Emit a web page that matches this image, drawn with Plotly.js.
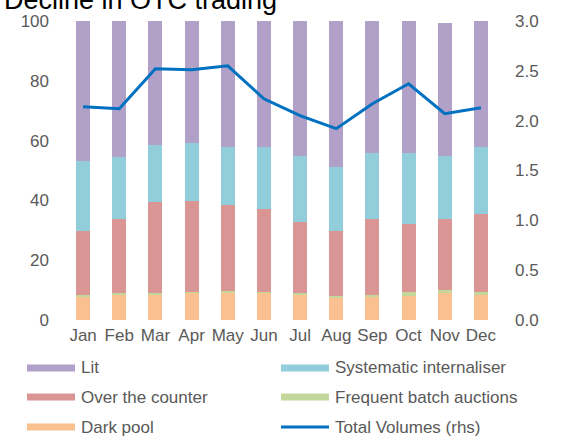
<!DOCTYPE html>
<html>
<head>
<meta charset="utf-8">
<script src="https://cdn.plot.ly/plotly-3.0.1.min.js"></script>
<style>html,body{margin:0;padding:0;background:#fff;}#chart{width:565px;height:437px;}</style>
</head>
<body>
<div id="chart"></div>
<script>
const months = ['Jan','Feb','Mar','Apr','May','Jun','Jul','Aug','Sep','Oct','Nov','Dec'];
const darkPool = [7.6, 8.2, 8.2, 8.9, 9.1, 8.9, 8.2, 7.2, 7.8, 8.1, 8.9, 8.5];
const frequentBatch = [0.7, 0.7, 0.7, 0.5, 0.7, 0.5, 0.7, 0.8, 0.7, 1.1, 1.2, 0.9];
const overTheCounter = [21.5, 24.9, 30.5, 30.4, 28.7, 27.7, 24.0, 21.8, 25.2, 22.8, 23.6, 26.1];
const systematicInt = [23.5, 20.6, 19.2, 19.3, 19.3, 20.7, 21.9, 21.5, 22.2, 23.9, 21.1, 22.3];
const lit = [46.7, 45.6, 41.4, 40.9, 42.2, 42.2, 45.2, 48.7, 44.1, 44.1, 44.5, 42.2];
const totalVolumes = [2.14, 2.12, 2.52, 2.51, 2.55, 2.22, 2.05, 1.92, 2.17, 2.37, 2.07, 2.13];

const colors = {
  lit: '#B1A0C7', si: '#92CDDC', otc: '#DA9694', fba: '#C4D79B', dark: '#FAC090', line: '#0070C0'
};

const W = 565, H = 437;
const M = {l: 65, r: 66, t: 21, b: 117};
const px = x => (x - M.l) / (W - M.l - M.r);
const py = y => (H - M.b - y) / (H - M.t - M.b);

const barCommon = {type: 'bar', x: months, showlegend: false, hoverinfo: 'y+name'};
const traces = [
  Object.assign({}, barCommon, {name: 'Dark pool', y: darkPool, marker: {color: colors.dark}}),
  Object.assign({}, barCommon, {name: 'Frequent batch auctions', y: frequentBatch, marker: {color: colors.fba}}),
  Object.assign({}, barCommon, {name: 'Over the counter', y: overTheCounter, marker: {color: colors.otc}}),
  Object.assign({}, barCommon, {name: 'Systematic internaliser', y: systematicInt, marker: {color: colors.si}}),
  Object.assign({}, barCommon, {name: 'Lit', y: lit, marker: {color: colors.lit}}),
  {type: 'scatter', mode: 'lines', name: 'Total Volumes (rhs)', x: months, y: totalVolumes, yaxis: 'y2',
   line: {color: colors.line, width: 3}, showlegend: false}
];

const legendItems = [
  {label: 'Lit', color: colors.lit, col: 0, row: 0, kind: 'bar'},
  {label: 'Systematic internaliser', color: colors.si, col: 1, row: 0, kind: 'bar'},
  {label: 'Over the counter', color: colors.otc, col: 0, row: 1, kind: 'bar'},
  {label: 'Frequent batch auctions', color: colors.fba, col: 1, row: 1, kind: 'bar'},
  {label: 'Dark pool', color: colors.dark, col: 0, row: 2, kind: 'bar'},
  {label: 'Total Volumes (rhs)', color: colors.line, col: 1, row: 2, kind: 'line'}
];
const colX = [27, 281];
const rowY = [368, 397, 427];
const shapes = [], annotations = [];
legendItems.forEach(it => {
  const x0 = colX[it.col], x1 = x0 + 48, y = rowY[it.row];
  shapes.push({type: 'line', xref: 'paper', yref: 'paper', x0: px(x0), x1: px(x1), y0: py(y), y1: py(y),
    line: {color: it.color, width: it.kind === 'bar' ? 7 : 3}});
  annotations.push({xref: 'paper', yref: 'paper', x: px(x1 + 4), y: py(y), xanchor: 'left', yanchor: 'middle',
    text: it.label, showarrow: false, font: {family: 'Liberation Sans, Arial, sans-serif', size: 17, color: '#595959'}});
});
annotations.push({xref: 'paper', yref: 'paper', x: px(2), y: py(17), xanchor: 'left', yanchor: 'bottom',
  text: 'Decline in OTC trading', showarrow: false,
  font: {family: 'Liberation Sans, Arial, sans-serif', size: 27, color: '#000000'}});

const tickFont = {family: 'Liberation Sans, Arial, sans-serif', size: 17, color: '#595959'};
const layout = {
  width: W, height: H,
  margin: M,
  paper_bgcolor: '#ffffff', plot_bgcolor: '#ffffff',
  barmode: 'stack', bargap: 0.61,
  showlegend: false,
  xaxis: {type: 'category', tickfont: tickFont, showgrid: false, zeroline: false, showline: false,
          ticks: '', ticklabelstandoff: 3},
  yaxis: {range: [0, 100], dtick: 20, tickfont: tickFont, showgrid: false, zeroline: false, showline: false,
          ticks: '', ticklabelstandoff: 15},
  yaxis2: {range: [0, 3], dtick: 0.5, tickformat: '.1f', overlaying: 'y', side: 'right', tickfont: tickFont,
           showgrid: false, zeroline: false, showline: false, ticks: '', ticklabelstandoff: 15},
  shapes: shapes,
  annotations: annotations
};

Plotly.newPlot('chart', traces, layout, {displayModeBar: false, staticPlot: true});
</script>
</body>
</html>
